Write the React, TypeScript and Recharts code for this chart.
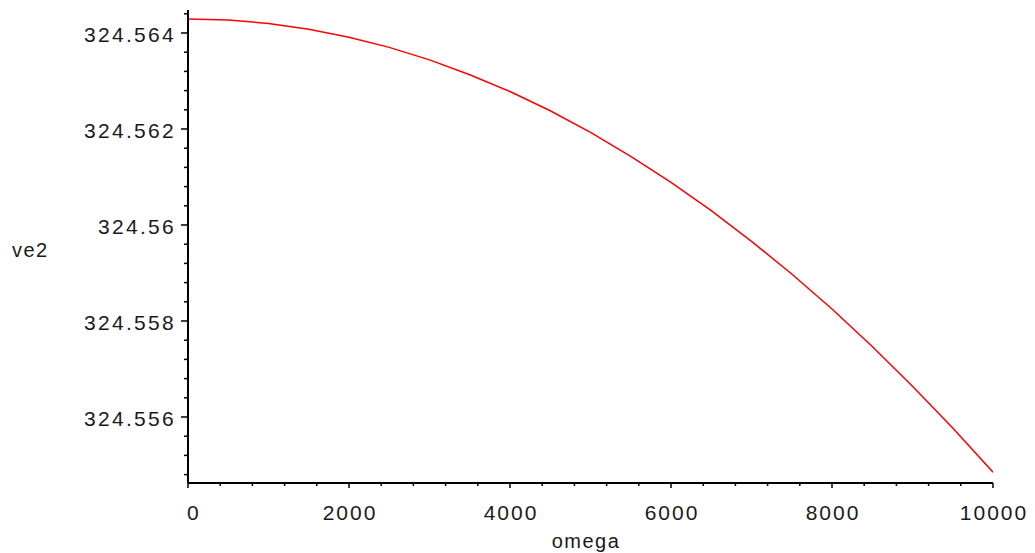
import React from 'react';
import { LineChart, Line, XAxis, YAxis } from 'recharts';

const omega = [0, 500, 1000, 1500, 2000, 2500, 3000, 3500, 4000, 4500, 5000, 5500, 6000, 6500, 7000, 7500, 8000, 8500, 9000, 9500, 10000];
const ve2 = [324.56429, 324.56427, 324.5642, 324.56408, 324.56391, 324.5637, 324.56344, 324.56313, 324.56278, 324.56238, 324.56193, 324.56143, 324.56089, 324.5603, 324.55966, 324.55898, 324.55825, 324.55747, 324.55664, 324.55577, 324.55485];

const xMajorTicks = [0, 2000, 4000, 6000, 8000, 10000];
const xMajorLabels = ['0', '2000', '4000', '6000', '8000', '10000'];
const xMinorTicks = [400, 800, 1200, 1600, 2400, 2800, 3200, 3600, 4400, 4800, 5200, 5600, 6400, 6800, 7200, 7600, 8400, 8800, 9200, 9600];

const yMajorTicks = [324.556, 324.558, 324.56, 324.562, 324.564];
const yMajorLabels = ['324.556', '324.558', '324.56', '324.562', '324.564'];
const yMinorTicks = [324.5548, 324.5552, 324.5556, 324.5564, 324.5568, 324.5572, 324.5576, 324.5584, 324.5588, 324.5592, 324.5596, 324.5604, 324.5608, 324.5612, 324.5616, 324.5624, 324.5628, 324.5632, 324.5636, 324.5644];

const data = omega.map((o, i) => ({ omega: o, ve2: ve2[i] }));

const FONT = '"Liberation Sans", Arial, sans-serif';
const TEXT = '#1a1a1a';

const majorIndex = (list: number[], v: number) => list.findIndex((m) => Math.abs(m - v) < 1e-9);

const XTick = (props: any) => {
  const { x, y, payload } = props;
  const v = payload.value;
  const mi = majorIndex(xMajorTicks, v);
  if (mi < 0) {
    return <line x1={x} x2={x} y1={y} y2={y + 3} stroke="#000" strokeWidth={1.5} />;
  }
  return (
    <g>
      <line x1={x} x2={x} y1={y} y2={y + 5} stroke="#000" strokeWidth={1.5} />
      <text
        x={mi === 0 ? x - 1 : x + 1}
        y={y + 37}
        textAnchor={mi === 0 ? 'start' : 'middle'}
        fontFamily={FONT}
        fontSize={21}
        letterSpacing={2}
        fill={TEXT}
      >
        {xMajorLabels[mi]}
      </text>
    </g>
  );
};

const YTick = (props: any) => {
  const { x, y, payload } = props;
  const v = payload.value;
  const mi = majorIndex(yMajorTicks, v);
  if (mi < 0) {
    return <line x1={x - 4} x2={x} y1={y} y2={y} stroke="#000" strokeWidth={1.5} />;
  }
  return (
    <g>
      <line x1={x - 7} x2={x} y1={y} y2={y} stroke="#000" strokeWidth={1.5} />
      <text
        x={x - 12}
        y={y + 9}
        textAnchor="end"
        fontFamily={FONT}
        fontSize={21}
        letterSpacing={2.3}
        fill={TEXT}
      >
        {yMajorLabels[mi]}
      </text>
    </g>
  );
};

export default function App() {
  return (
    <div style={{ position: 'absolute', left: 0, top: 0, width: 1035, height: 553, background: '#fff' }}>
      <LineChart width={1035} height={553} data={data} margin={{ top: 10, right: 42, left: 0, bottom: 0 }}>
        <XAxis
          dataKey="omega"
          type="number"
          domain={[0, 10000]}
          ticks={[...xMajorTicks, ...xMinorTicks].sort((a, b) => a - b)}
          interval={0}
          tickSize={0}
          tickMargin={0}
          tickLine={false}
          tick={<XTick />}
          height={70}
          axisLine={{ stroke: '#000', strokeWidth: 2 }}
          allowDataOverflow
        />
        <YAxis
          dataKey="ve2"
          type="number"
          domain={[324.554625, 324.564479]}
          ticks={[...yMajorTicks, ...yMinorTicks].sort((a, b) => a - b)}
          interval={0}
          tickSize={0}
          tickMargin={0}
          tickLine={false}
          tick={<YTick />}
          width={188}
          axisLine={{ stroke: '#000', strokeWidth: 2 }}
          allowDataOverflow
        />
        <Line
          type="linear"
          dataKey="ve2"
          stroke="#ff0000"
          strokeWidth={1.5}
          dot={false}
          isAnimationActive={false}
        />
        <text x={12} y={257} fontFamily={FONT} fontSize={20} letterSpacing={1.5} fill={TEXT}>ve2</text>
        <text x={586} y={548} textAnchor="middle" fontFamily={FONT} fontSize={20} letterSpacing={1.5} fill={TEXT}>omega</text>
      </LineChart>
    </div>
  );
}
